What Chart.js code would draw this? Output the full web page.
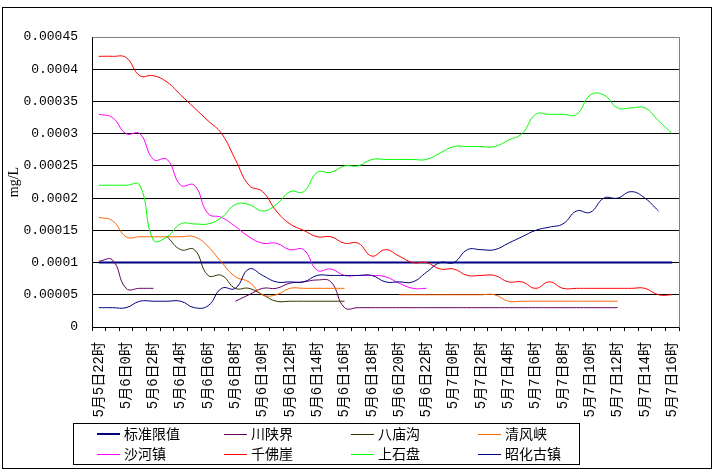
<!DOCTYPE html>
<html>
<head>
<meta charset="utf-8">
<script src="https://cdn.jsdelivr.net/npm/chart.js@4/dist/chart.umd.min.js"></script>
<style>
html,body{margin:0;padding:0;background:#fff;}
canvas{display:block;}
</style>
</head>
<body>
<canvas id="c" width="716" height="475"></canvas>
<script>
// ---- data ----
const categories = [
  "5月5日22时","5月5日23时",
  "5月6日0时","5月6日1时","5月6日2时","5月6日3时","5月6日4时","5月6日5时","5月6日6时","5月6日7时",
  "5月6日8时","5月6日9时","5月6日10时","5月6日11时","5月6日12时","5月6日13时","5月6日14时","5月6日15时",
  "5月6日16时","5月6日17时","5月6日18时","5月6日19时","5月6日20时","5月6日21时","5月6日22时","5月6日23时",
  "5月7日0时","5月7日1时","5月7日2时","5月7日3时","5月7日4时","5月7日5时","5月7日6时","5月7日7时",
  "5月7日8时","5月7日9时","5月7日10时","5月7日11时","5月7日12时","5月7日13时","5月7日14时","5月7日15时",
  "5月7日16时"
];
const seriesNames = ["标准限值","川陕界","八庙沟","清风峡","沙河镇","千佛崖","上石盘","昭化古镇"];
const standardLimit = [
  0.0001,0.0001,0.0001,0.0001,0.0001,0.0001,0.0001,0.0001,0.0001,0.0001,
  0.0001,0.0001,0.0001,0.0001,0.0001,0.0001,0.0001,0.0001,0.0001,0.0001,
  0.0001,0.0001,0.0001,0.0001,0.0001,0.0001,0.0001,0.0001,0.0001,0.0001,
  0.0001,0.0001,0.0001,0.0001,0.0001,0.0001,0.0001,0.0001,0.0001,0.0001,
  0.0001,0.0001,0.0001
];
const chuanShanJie = [
  0.000102,0.000104,0.00006,0.00006,0.00006,null,null,null,null,null,
  0.00004,0.00005,0.00006,0.00006,0.000068,0.00007,0.000073,0.00007,0.00003,0.00003,
  0.00003,0.00003,0.00003,0.00003,0.00003,0.00003,0.00003,0.00003,0.00003,0.00003,
  0.00003,0.00003,0.00003,0.00003,0.00003,0.00003,0.00003,0.00003,0.00003,null,
  null,null,null
];
const baMiaoGou = [
  null,null,null,null,null,0.00014,0.00012,0.00012,0.00008,0.00008,
  0.00006,0.00006,0.00005,0.00004,0.00004,0.00004,0.00004,0.00004,0.00004,null,
  null,null,null,null,null,null,null,null,null,null,
  null,null,null,null,null,null,null,null,null,null,
  null,null,null
];
const qingFengXia = [
  0.00017,0.000165,0.00014,0.00014,0.00014,0.00014,0.00014,0.00014,0.000125,0.0001,
  0.000078,0.00007,0.00005,0.00005,0.00006,0.00006,0.00006,0.00006,0.00006,null,
  null,null,0.00005,0.00005,0.00005,0.00005,0.00005,0.00005,0.00005,0.00005,
  0.00004,0.00004,0.00004,0.00004,0.00004,0.00004,0.00004,0.00004,0.00004,null,
  null,null,null
];
const shaHeZhen = [
  0.00033,0.000325,0.0003,0.0003,0.00026,0.00026,0.00022,0.00022,0.000176,0.00017,
  0.000156,0.00014,0.00013,0.00013,0.00012,0.00012,0.000088,0.00009,0.00008,0.00008,
  0.00008,0.000078,0.000068,0.00006,0.00006,null,null,null,null,null,
  null,null,null,null,null,null,null,null,null,null,
  null,null,null
];
const qianFoYa = [
  0.00042,0.00042,0.000418,0.00039,0.00039,0.00038,0.00036,0.00034,0.00032,0.0003,
  0.00026,0.00022,0.00021,0.00018,0.00016,0.00015,0.00014,0.00014,0.00013,0.00013,
  0.00011,0.00012,0.00011,0.0001,0.0001,0.00009,0.00009,0.00008,0.00008,0.00008,
  0.00007,0.00007,0.00006,0.00007,0.00006,0.00006,0.00006,0.00006,0.00006,0.00006,
  0.00006,0.00005,0.00005
];
const shangShiPan = [
  0.00022,0.00022,0.00022,0.00022,0.000135,0.00014,0.00016,0.00016,0.00016,0.00017,
  0.00019,0.00019,0.00018,0.00019,0.00021,0.00021,0.00024,0.00024,0.00025,0.00025,
  0.00026,0.00026,0.00026,0.00026,0.00026,0.00027,0.00028,0.00028,0.00028,0.00028,
  0.00029,0.0003,0.00033,0.00033,0.00033,0.00033,0.00036,0.00036,0.00034,0.00034,
  0.00034,0.00032,0.0003
];
const zhaoHuaGuZhen = [
  0.00003,0.00003,0.00003,0.00004,0.00004,0.00004,0.00004,0.00003,0.000033,0.00006,
  0.00006,0.00009,0.00008,0.00007,0.00007,0.00007,0.00008,0.00008,0.00008,0.00008,
  0.00008,0.00007,0.00007,0.00007,0.000085,0.0001,0.0001,0.00012,0.00012,0.00012,
  0.00013,0.00014,0.00015,0.000155,0.00016,0.00018,0.000178,0.0002,0.0002,0.00021,
  0.0002,0.00018,null
];
const yMin = 0, yMax = 0.00045, yStep = 0.00005;
const yTitle = "mg/L";

// ---- styles ----
const colors = ["#000080","#660066","#333300","#FF6600","#FF00FF","#FF0000","#00FF00","#000080"];
const widths = [2,1,1,1,1,1,1,1];
const allSeries = [standardLimit,chuanShanJie,baMiaoGou,qingFengXia,shaHeZhen,qianFoYa,shangShiPan,zhaoHuaGuZhen];

const datasets = allSeries.map((d,i)=>({
  label: seriesNames[i],
  data: d,
  borderColor: colors[i],
  backgroundColor: colors[i],
  borderWidth: widths[i],
  pointRadius: 0,
  pointHoverRadius: 0,
  tension: i===0 ? 0 : 0.45,
  fill: false,
  spanGaps: false,
  order: allSeries.length - i
}));

const frameAndLegend = {
  id: 'frameAndLegend',
  afterDraw(chart){
    const ctx = chart.ctx;
    const a = chart.chartArea;
    ctx.save();
    ctx.strokeStyle = '#808080';
    ctx.lineWidth = 1;
    ctx.beginPath();
    ctx.moveTo(Math.round(a.left)+0.5, Math.round(a.top)+0.5);
    ctx.lineTo(Math.round(a.right)+0.5, Math.round(a.top)+0.5);
    ctx.lineTo(Math.round(a.right)+0.5, Math.round(a.bottom)+0.5);
    ctx.stroke();
    ctx.strokeStyle = '#000';
    ctx.strokeRect(2.5, 7.5, 709, 461);
    ctx.strokeRect(73.5, 423.5, 506, 41);
    const colX = [97, 224, 351, 478];
    const rowY = [434, 454];
    ctx.font = '14px "Noto Sans CJK SC", sans-serif';
    ctx.textBaseline = 'middle';
    ctx.textAlign = 'left';
    chart.data.datasets.forEach((ds, i) => {
      const x = colX[i % 4], y = rowY[Math.floor(i / 4)];
      ctx.strokeStyle = ds.borderColor;
      ctx.lineWidth = ds.borderWidth;
      ctx.beginPath();
      const yy = ds.borderWidth % 2 ? y + 0.5 : y;
      ctx.moveTo(x, yy);
      ctx.lineTo(x + 23, yy);
      ctx.stroke();
      ctx.fillStyle = '#000';
      ctx.fillText(ds.label, x + 27, y);
    });
    ctx.restore();
  }
};

const whiteBg = {
  id: 'whiteBg',
  beforeDraw(chart){
    const ctx = chart.ctx;
    ctx.save();
    ctx.fillStyle = '#fff';
    ctx.fillRect(0,0,chart.width,chart.height);
    ctx.restore();
  }
};

new Chart(document.getElementById('c'), {
  type: 'line',
  data: { labels: categories, datasets },
  options: {
    responsive: false,
    animation: false,
    devicePixelRatio: 1,
    layout: { padding: { left: 0, right: 37, top: 37, bottom: 58 } },
    plugins: {
      legend: { display: false },
      tooltip: { enabled: false },
      title: { display: false }
    },
    scales: {
      x: {
        type: 'category',
        offset: true,
        afterFit(scale){ scale.height = 90; },
        grid: {
          offset: true,
          drawOnChartArea: false,
          drawTicks: true,
          tickLength: 4,
          color: '#000',
          lineWidth: 1
        },
        border: { display: true, color: '#000', width: 1 },
        ticks: {
          autoSkip: false,
          minRotation: 90,
          maxRotation: 90,
          padding: 11,
          color: '#000',
          font: { family: '"Liberation Mono", "Noto Sans CJK SC", monospace', size: 14 },
          callback(v, i){ return i % 2 === 0 ? categories[i] : ''; }
        }
      },
      y: {
        min: yMin,
        max: yMax,
        afterFit(scale){ scale.width = 92; },
        grid: {
          drawTicks: false,
          tickLength: 0,
          color(ctx){ return (ctx.tick && Math.abs(ctx.tick.value - yMax) < 1e-9) ? '#808080' : '#000'; },
          lineWidth: 1
        },
        border: { display: true, color: '#000', width: 1 },
        ticks: {
          stepSize: yStep,
          padding: 14,
          color: '#000',
          font: { family: '"Liberation Mono", monospace', size: 13 },
          callback(v){ return Number(Number(v).toFixed(6)).toString(); }
        },
        title: {
          display: true,
          text: yTitle,
          color: '#000',
          font: { family: '"Liberation Serif", serif', size: 14 },
          padding: { top: 6, bottom: 0 }
        }
      }
    }
  },
  plugins: [whiteBg, frameAndLegend]
});
</script>
</body>
</html>
